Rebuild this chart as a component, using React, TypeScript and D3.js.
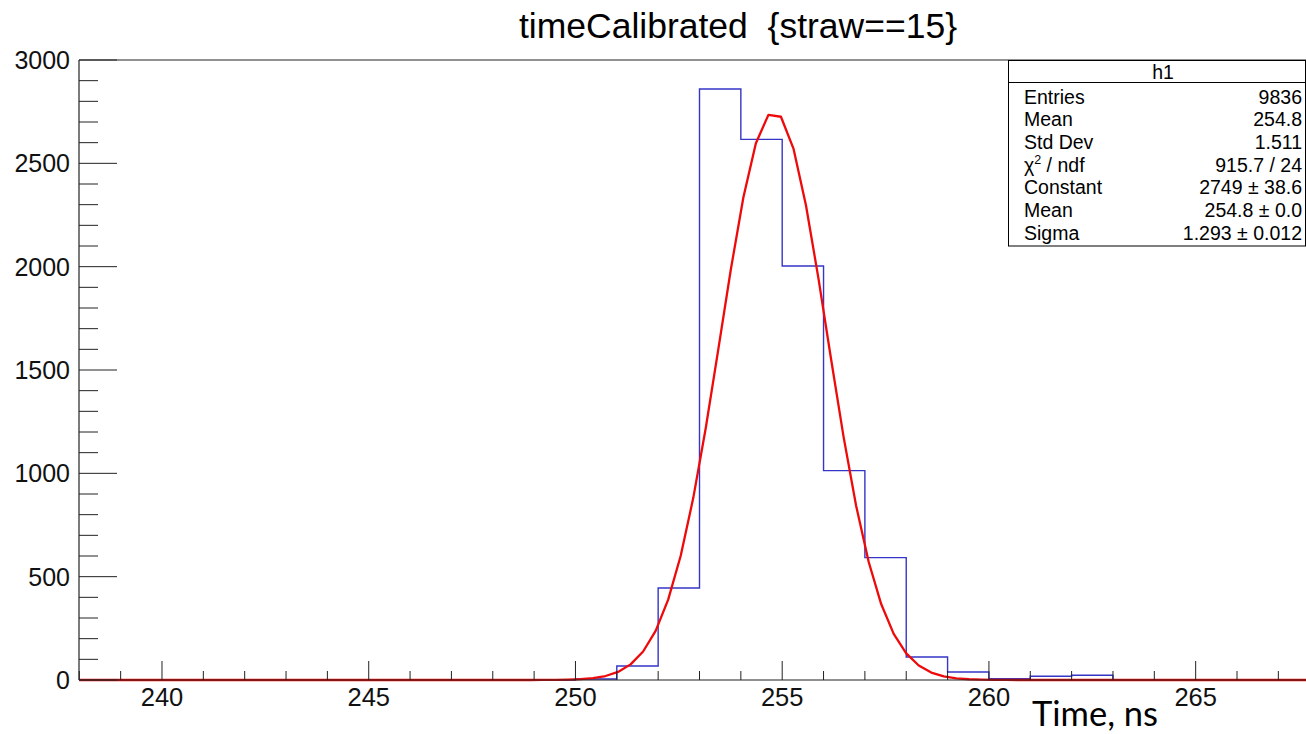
import React from "react";
import * as d3 from "d3";

// ---- data ----
const binLowEdges = d3.range(238, 268, 1); // 30 bins of 1 ns
const binCounts = [
  0, 0, 0, 0, 0, 0, 0, 0, 0, 0, 0, 0,
  5, 68, 445, 2860, 2616, 2003, 1013, 592, 111, 39, 6, 18, 23,
  0, 0, 0, 0, 0,
];
const xTickLabels = [240, 245, 250, 255, 260, 265];
const yTickLabels = [0, 500, 1000, 1500, 2000, 2500, 3000];
const fitParams = { constant: 2749, mean: 254.8, sigma: 1.293 };
const statsNames = ["Entries", "Mean", "Std Dev", "χ2 / ndf", "Constant", "Mean", "Sigma"];
const statsValues = ["9836", "254.8", "1.511", "915.7 / 24", "2749 ± 38.6", "254.8 ± 0.0", "1.293 ± 0.012"];

const W = 1306;
const H = 734;
const FONT = "'Liberation Sans', Arial, Helvetica, sans-serif";

export default function App() {
  const x = d3.scaleLinear().domain([238, 268]).range([79.3, 1319.7]);
  const y = d3.scaleLinear().domain([0, 3000]).range([680, 60]);

  // histogram step outline
  const pts: [number, number][] = [[238, 0]];
  binLowEdges.forEach((lo, i) => {
    pts.push([lo, binCounts[i]]);
    pts.push([lo + 1, binCounts[i]]);
  });
  pts.push([268, 0]);
  const line = d3
    .line<[number, number]>()
    .x((d) => x(d[0]))
    .y((d) => y(d[1]));

  // fit function (gaussian with the fitted parameters), sampled like ROOT (100 points)
  const fx = d3.range(100).map((i) => 238 + (i * 30) / 99);
  const fitPts: [number, number][] = fx.map((v) => [
    v,
    fitParams.constant * Math.exp(-((v - fitParams.mean) ** 2) / (2 * fitParams.sigma ** 2)),
  ]);

  const xMinor = d3.range(238, 269, 1);
  const yMinor = d3.range(0, 3001, 100);
  const axisColor = "#222";

  return (
    <div style={{ position: "fixed", left: 0, top: 0 }}>
      <svg width={W} height={H} style={{ display: "block", background: "#fff" }}>
        <rect x={0} y={0} width={W} height={H} fill="#fff" />
        {/* title */}
        <text x={738} y={38} textAnchor="middle" fontFamily={FONT} fontSize={35.5} fill="#000">
          timeCalibrated {"\u00a0"}{"{"}straw==15{"}"}
        </text>

        {/* histogram */}
        <path d={line(pts) || ""} fill="none" stroke="#3535c8" strokeWidth={1.4} />
        {/* fit */}
        <path
          d={line(fitPts) || ""}
          fill="none"
          stroke="#ee0a0a"
          strokeWidth={2.3}
          strokeLinejoin="round"
        />

        {/* frame */}
        <line x1={79} x2={1320} y1={60} y2={60} stroke={axisColor} strokeWidth={1} />
        <line x1={79} x2={79} y1={60} y2={680} stroke={axisColor} strokeWidth={1.2} />
        <line x1={79} x2={1320} y1={680} y2={680} stroke={axisColor} strokeWidth={1.2} />

        {/* y ticks */}
        {yMinor.map((v) => {
          const major = v % 500 === 0;
          return (
            <line
              key={"ym" + v}
              x1={79}
              x2={79 + (major ? 38 : 19)}
              y1={y(v)}
              y2={y(v)}
              stroke={axisColor}
              strokeWidth={1}
            />
          );
        })}
        {yTickLabels.map((v) => (
          <text
            key={"yl" + v}
            x={70}
            y={y(v) + 9}
            textAnchor="end"
            fontFamily={FONT}
            fontSize={25}
            fill="#111"
          >
            {v}
          </text>
        ))}

        {/* x ticks */}
        {xMinor.map((v) => {
          const major = v % 5 === 0;
          return (
            <line
              key={"xm" + v}
              x1={x(v)}
              x2={x(v)}
              y1={680}
              y2={680 - (major ? 19 : 9)}
              stroke={axisColor}
              strokeWidth={1}
            />
          );
        })}
        {xTickLabels.map((v) => (
          <text
            key={"xl" + v}
            x={x(v)}
            y={706}
            textAnchor="middle"
            fontFamily={FONT}
            fontSize={25.5}
            fill="#111"
          >
            {v}
          </text>
        ))}

        {/* axis title */}
        <text x={1032} y={726} fontFamily="Lato, 'Open Sans', sans-serif" fontSize={34.5} fill="#000">
          Time, ns
        </text>

        {/* stats box */}
        <rect x={1008.5} y={60.5} width={297} height={185.5} fill="#fff" stroke="#000" strokeWidth={1} />
        <line x1={1008.5} x2={1305.5} y1={82.5} y2={82.5} stroke="#000" strokeWidth={1} />
        <text x={1163} y={78.5} textAnchor="middle" fontFamily={FONT} fontSize={19.5} fill="#000">
          h1
        </text>
        {statsNames.map((n, i) => (
          <text key={"sn" + i} x={1024} y={103.5 + i * 22.67} fontFamily={FONT} fontSize={19.5} fill="#000">
            {n.startsWith("χ2") ? (
              <>
                χ<tspan fontSize={12.5} dy={-7.5}>2</tspan>
                <tspan dy={7.5}>{n.slice(2)}</tspan>
              </>
            ) : (
              n
            )}
          </text>
        ))}
        {statsValues.map((v, i) => (
          <text
            key={"sv" + i}
            x={1302}
            y={103.5 + i * 22.67}
            textAnchor="end"
            fontFamily={FONT}
            fontSize={19.5}
            fill="#000"
          >
            {v}
          </text>
        ))}
      </svg>
    </div>
  );
}
